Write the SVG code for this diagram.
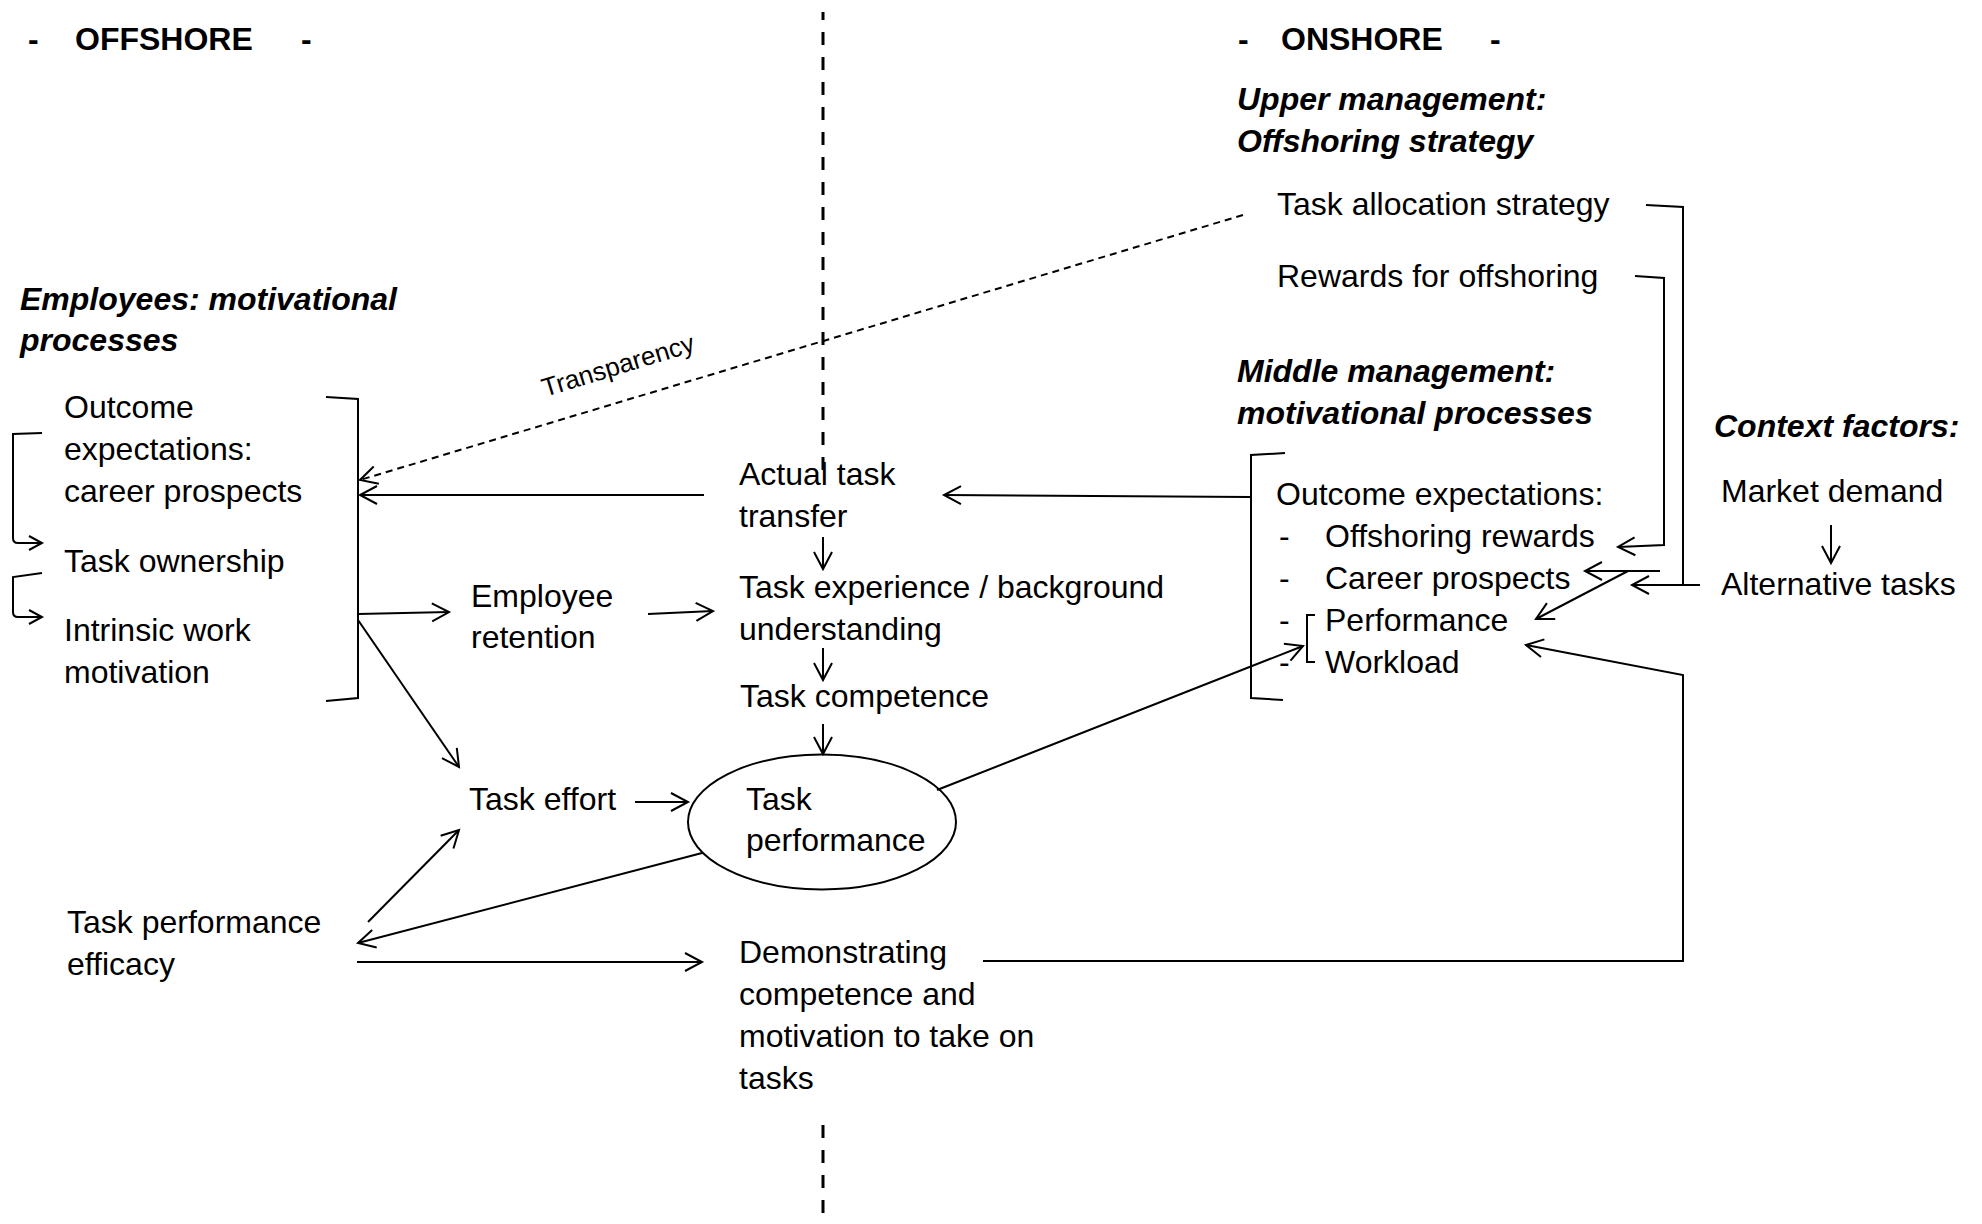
<svg xmlns="http://www.w3.org/2000/svg" width="1982" height="1224" viewBox="0 0 1982 1224">
<style>
text{font-family:"Liberation Sans",Arial,sans-serif;font-size:32px;fill:#000}
.h{font-weight:bold}
.bi{font-weight:bold;font-style:italic}
.ln{fill:none;stroke:#000;stroke-width:2}
.ar{fill:none;stroke:#000;stroke-width:2;marker-end:url(#a)}
.sa{fill:none;stroke:#000;stroke-width:2;marker-end:url(#s)}
</style>
<defs>
<marker id="a" markerUnits="userSpaceOnUse" orient="auto" refX="0" refY="0" markerWidth="40" markerHeight="40" overflow="visible">
<path d="M-17,-9 L0,0 L-17,9" fill="none" stroke="#000" stroke-width="2"/>
</marker>
<marker id="s" markerUnits="userSpaceOnUse" orient="auto" refX="0" refY="0" markerWidth="30" markerHeight="30" overflow="visible">
<path d="M-13,-7 L0,0 L-13,7" fill="none" stroke="#000" stroke-width="2"/>
</marker>
</defs>
<rect width="1982" height="1224" fill="#fff"/>

<g id="divider">
<line x1="823" y1="12" x2="823" y2="470" stroke="#000" stroke-width="3" stroke-dasharray="13 12" stroke-dashoffset="5"/>
<line x1="823" y1="1125" x2="823" y2="1224" stroke="#000" stroke-width="3" stroke-dasharray="13 12"/>
</g>

<g id="offshore-header">
<text class="h" x="28" y="50">-</text>
<text class="h" x="75" y="50">OFFSHORE</text>
<text class="h" x="301" y="50">-</text>
</g>
<g id="onshore-header">
<text class="h" x="1238" y="50">-</text>
<text class="h" x="1281" y="50">ONSHORE</text>
<text class="h" x="1490" y="50">-</text>
</g>

<g id="employees-title">
<text class="bi" x="20" y="310">Employees: motivational</text>
<text class="bi" x="20" y="351">processes</text>
</g>
<g id="outcome-expectations-offshore">
<text x="64" y="418">Outcome</text>
<text x="64" y="460">expectations:</text>
<text x="64" y="502">career prospects</text>
</g>
<g id="task-ownership"><text x="64" y="572">Task ownership</text></g>
<g id="intrinsic-motivation">
<text x="64" y="641">Intrinsic work</text>
<text x="64" y="683">motivation</text>
</g>
<g id="employee-retention">
<text x="471" y="607">Employee</text>
<text x="471" y="648">retention</text>
</g>
<g id="task-effort"><text x="469" y="810">Task effort</text></g>
<g id="efficacy">
<text x="67" y="933">Task performance</text>
<text x="67" y="975">efficacy</text>
</g>
<g id="actual-task-transfer">
<text x="739" y="485">Actual task</text>
<text x="739" y="527">transfer</text>
</g>
<g id="task-experience">
<text x="739" y="598">Task experience / background</text>
<text x="739" y="640">understanding</text>
</g>
<g id="task-competence"><text x="740" y="707">Task competence</text></g>
<g id="task-performance">
<ellipse cx="822" cy="822" rx="134" ry="67.5" fill="none" stroke="#000" stroke-width="2"/>
<text x="746" y="810">Task</text>
<text x="746" y="851">performance</text>
</g>
<g id="demonstrating">
<text x="739" y="963">Demonstrating</text>
<text x="739" y="1005">competence and</text>
<text x="739" y="1047">motivation to take on</text>
<text x="739" y="1089">tasks</text>
</g>

<g id="upper-management">
<text class="bi" x="1237" y="110">Upper management:</text>
<text class="bi" x="1237" y="152">Offshoring strategy</text>
</g>
<g id="task-allocation"><text x="1277" y="215">Task allocation strategy</text></g>
<g id="rewards"><text x="1277" y="287">Rewards for offshoring</text></g>
<g id="middle-management">
<text class="bi" x="1237" y="382">Middle management:</text>
<text class="bi" x="1237" y="424">motivational processes</text>
</g>
<g id="outcome-expectations-onshore">
<path class="ln" d="M1285,453 L1251,455 L1251,698 L1283,700"/>
<text x="1276" y="505">Outcome expectations:</text>
<text x="1279" y="547">-</text><text x="1325" y="547">Offshoring rewards</text>
<text x="1279" y="589">-</text><text x="1325" y="589">Career prospects</text>
<text x="1279" y="631">-</text><text x="1325" y="631">Performance</text>
<text x="1279" y="673">-</text><text x="1325" y="673">Workload</text>
<path class="ln" d="M1315,615 L1307,615 L1307,662 L1315,662"/>
</g>
<g id="context-factors"><text class="bi" x="1714" y="437">Context factors:</text></g>
<g id="market-demand"><text x="1721" y="502">Market demand</text></g>
<g id="alternative-tasks"><text x="1721" y="595">Alternative tasks</text></g>

<g id="connectors">
<path class="ln" d="M326,397 L358,399 L358,698 L326,701"/>
<path class="sa" d="M42,433 L13,434 L13,538 Q13,543 18,543 L42,543"/>
<path class="sa" d="M42,573 L13,577 L13,612 Q13,617 18,617 L42,617"/>
<path class="ar" d="M1243,215 L360,480" stroke-dasharray="7 5" stroke-width="1.8"/>
<text x="545" y="397" transform="rotate(-17 545 397)" style="font-size:26px">Transparency</text>
<path class="ar" d="M704,495 L360,495"/>
<path class="ar" d="M1250,497 L944,495"/>
<path class="ar" d="M823,537 L823,569"/>
<path class="ar" d="M823,648 L823,680"/>
<path class="ar" d="M823,724 L823,754"/>
<path class="ar" d="M358,614 L449,612"/>
<path class="ar" d="M648,614 L713,611"/>
<path class="ar" d="M358,620 L459,767"/>
<path class="ar" d="M635,802 L688,802"/>
<path class="ar" d="M368,922 L459,830"/>
<path class="ar" d="M702,853 L358,943"/>
<path class="ar" d="M357,962 L702,962"/>
<path class="ar" d="M937,790 L1303,646"/>
<path class="ar" d="M983,961 L1683,961 L1683,675 L1526,645"/>
<path class="ln" d="M1646,205 L1683,207 L1683,585"/>
<path class="ar" d="M1700,585 L1632,585"/>
<path class="ar" d="M1635,276 L1664,278 L1664,545 L1618,547"/>
<path class="ar" d="M1660,571 L1585,571"/>
<path class="ar" d="M1628,571 L1536,619"/>
<path class="ar" d="M1831,525 L1831,563"/>
</g>
</svg>
